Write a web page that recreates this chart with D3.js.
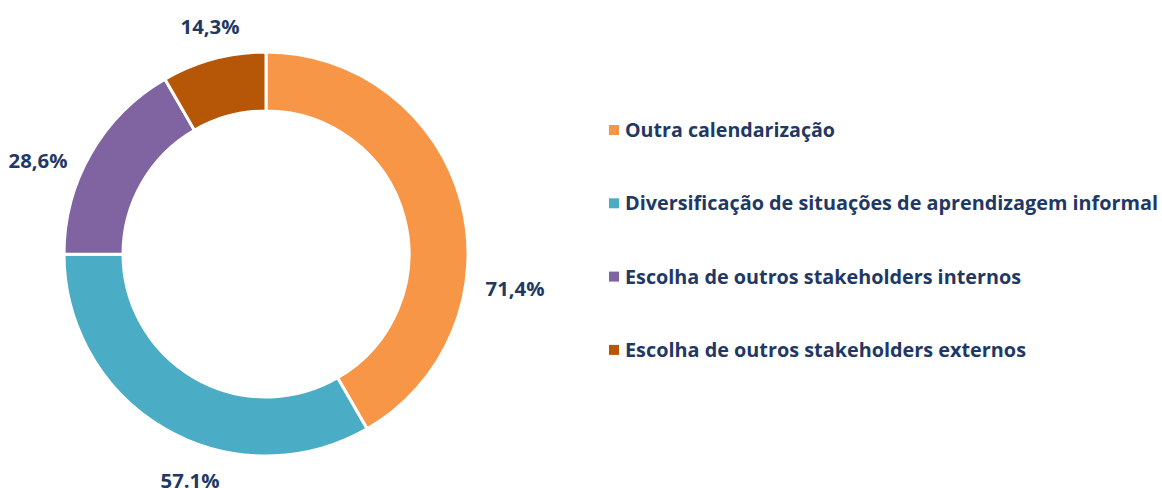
<!DOCTYPE html>
<html>
<head>
<meta charset="utf-8">
<script src="https://cdn.jsdelivr.net/npm/d3@7"></script>
<style>
  body { margin: 0; background: #fff; }
  text { font-family: "Open Sans", "Liberation Sans", sans-serif; font-weight: bold; fill: #1F3864; }
</style>
</head>
<body>
<svg width="1162" height="488"></svg>
<script>
  // dados
  var categorias = ["Outra calendarização", "Diversificação de situações de aprendizagem informal",
                    "Escolha de outros stakeholders internos", "Escolha de outros stakeholders externos"];
  var valores = [71.4, 57.1, 28.6, 14.3];
  var rotulos = ["71,4%", "57.1%", "28,6%", "14,3%"];
  var cores = ["#F79646", "#4BACC6", "#8064A2", "#B65708"];

  // posicoes dos rotulos (x, y do centro) e larguras da legenda
  var posRotulos = [[515, 289], [190, 481], [38, 161], [210, 27]];
  var largLegenda = [210, 533, 396, 401];

  var config = { cx: 266, cy: 254, raio: 202, raioInt: 143, legX: 625, legY: 130, legGap: 73.3 };

  var svg = d3.select("svg");
  var g = svg.append("g").attr("transform", "translate(" + config.cx + "," + config.cy + ")");

  var pie = d3.pie().sort(null).value(function(d) { return d; });
  var arc = d3.arc().innerRadius(config.raioInt).outerRadius(config.raio);

  g.selectAll("path")
    .data(pie(valores))
    .enter().append("path")
    .attr("d", arc)
    .attr("fill", function(d, i) { return cores[i]; })
    .attr("stroke", "#fff")
    .attr("stroke-width", 3);

  svg.selectAll("text.rot")
    .data(rotulos)
    .enter().append("text")
    .attr("class", "rot")
    .attr("x", function(d, i) { return posRotulos[i][0]; })
    .attr("y", function(d, i) { return posRotulos[i][1]; })
    .attr("dy", "0.35em")
    .attr("text-anchor", "middle")
    .attr("font-size", 20)
    .attr("textLength", 59)
    .attr("lengthAdjust", "spacingAndGlyphs")
    .text(function(d) { return d; });

  var leg = svg.selectAll("g.leg")
    .data(categorias)
    .enter().append("g")
    .attr("class", "leg")
    .attr("transform", function(d, i) { return "translate(" + config.legX + "," + (config.legY + i * config.legGap) + ")"; });

  leg.append("rect")
    .attr("x", -16).attr("y", -5)
    .attr("width", 10).attr("height", 10)
    .attr("fill", function(d, i) { return cores[i]; });

  leg.append("text")
    .attr("x", 0)
    .attr("dy", "0.35em")
    .attr("font-size", 20)
    .attr("textLength", function(d, i) { return largLegenda[i]; })
    .attr("lengthAdjust", "spacingAndGlyphs")
    .text(function(d) { return d; });
</script>
</body>
</html>
